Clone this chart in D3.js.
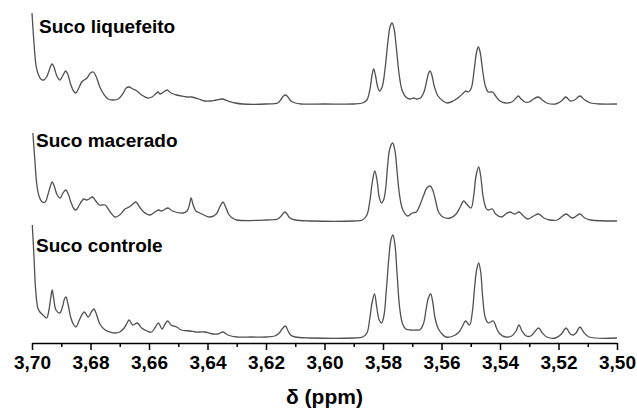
<!DOCTYPE html>
<html>
<head>
<meta charset="utf-8">
<script src="https://cdn.jsdelivr.net/npm/d3@7"></script>
<style>
  body { margin: 0; background: #fff; }
  svg { display: block; font-family: "Liberation Sans", Arial, sans-serif; }
  .trace { fill: none; stroke: #505050; stroke-width: 1.3; stroke-linejoin: round; }
  .label { font-weight: bold; font-size: 19px; fill: #000; }
  .axis path, .axis line { stroke: #000; stroke-width: 1.5; }
  .axis text { font-family: "Liberation Sans", Arial, sans-serif; font-weight: bold; font-size: 19px; fill: #000; }
</style>
</head>
<body>
<svg id="chart" width="637" height="414"></svg>
<script>
// chemical shift ticks (ppm)
var majorTicks = [3.70, 3.68, 3.66, 3.64, 3.62, 3.60, 3.58, 3.56, 3.54, 3.52, 3.50];
var minorTicks = [3.69, 3.67, 3.65, 3.63, 3.61, 3.59, 3.57, 3.55, 3.53, 3.51];

var seriesNames = ["Suco liquefeito", "Suco macerado", "Suco controle"];

// [ppm, intensity]
var liquefeitoPts = [
  [3.7000, 91], [3.6993, 60], [3.6986, 38], [3.6979, 30], [3.6970, 25], [3.6960, 24], [3.6950, 27],
  [3.6942, 33], [3.6936, 38], [3.6931, 40], [3.6925, 37], [3.6915, 28], [3.6905, 24], [3.6897, 27],
  [3.6890, 31], [3.6885, 33], [3.6878, 30], [3.6868, 20], [3.6858, 13], [3.6850, 11], [3.6840, 16],
  [3.6830, 22], [3.6822, 24], [3.6812, 26], [3.6800, 31], [3.6790, 32], [3.6780, 27], [3.6768, 17],
  [3.6755, 10], [3.6740, 5], [3.6725, 4], [3.6705, 5], [3.6690, 10], [3.6678, 16], [3.6668, 17],
  [3.6655, 15], [3.6641, 13], [3.6625, 9], [3.6605, 6], [3.6590, 7], [3.6578, 10], [3.6569, 12],
  [3.6562, 10], [3.6555, 11], [3.6545, 13], [3.6538, 14], [3.6525, 11], [3.6505, 9], [3.6490, 8],
  [3.6470, 7], [3.6455, 7], [3.6430, 5], [3.6410, 3], [3.6390, 3], [3.6370, 4], [3.6350, 5],
  [3.6330, 3], [3.6305, 1], [3.6280, 0], [3.6200, 0], [3.6160, 1], [3.6150, 4], [3.6140, 8],
  [3.6133, 9], [3.6125, 7], [3.6115, 3], [3.6100, 1], [3.6080, 0], [3.6000, 0], [3.5900, 0],
  [3.5870, 1], [3.5855, 4], [3.5845, 14], [3.5838, 28], [3.5832, 35], [3.5826, 29], [3.5819, 18],
  [3.5812, 13], [3.5803, 17], [3.5793, 35], [3.5783, 63], [3.5776, 77], [3.5769, 81], [3.5762, 75],
  [3.5755, 58], [3.5745, 30], [3.5735, 14], [3.5722, 7], [3.5708, 5], [3.5695, 6], [3.5685, 5],
  [3.5672, 6], [3.5660, 12], [3.5650, 24], [3.5644, 31], [3.5639, 33], [3.5633, 29], [3.5625, 18],
  [3.5612, 8], [3.5595, 3], [3.5580, 1], [3.5560, 3], [3.5540, 7], [3.5525, 11], [3.5517, 13],
  [3.5508, 12], [3.5498, 16], [3.5488, 35], [3.5480, 52], [3.5474, 57], [3.5468, 52], [3.5460, 35],
  [3.5450, 18], [3.5440, 12], [3.5430, 12], [3.5425, 12], [3.5415, 8], [3.5400, 3], [3.5380, 1],
  [3.5360, 2], [3.5345, 6], [3.5337, 8], [3.5328, 5], [3.5315, 2], [3.5300, 2], [3.5285, 5],
  [3.5269, 7], [3.5255, 4], [3.5240, 1], [3.5210, 0], [3.5190, 3], [3.5175, 7], [3.5160, 3],
  [3.5145, 4], [3.5127, 8], [3.5110, 4], [3.5090, 1], [3.5060, 0], [3.5000, 0]
];

var maceradoPts = [
  [3.6997, 88], [3.6990, 60], [3.6983, 35], [3.6975, 24], [3.6965, 19], [3.6955, 19], [3.6945, 27],
  [3.6937, 35], [3.6931, 39], [3.6924, 35], [3.6914, 26], [3.6904, 23], [3.6896, 27], [3.6889, 30],
  [3.6884, 31], [3.6876, 27], [3.6866, 18], [3.6856, 12], [3.6850, 11], [3.6840, 15], [3.6830, 20],
  [3.6822, 22], [3.6814, 21], [3.6805, 22], [3.6793, 24], [3.6782, 20], [3.6770, 16], [3.6750, 16],
  [3.6735, 10], [3.6716, 4], [3.6700, 6], [3.6682, 12], [3.6668, 14], [3.6655, 17], [3.6645, 19],
  [3.6632, 14], [3.6618, 9], [3.6597, 6], [3.6580, 9], [3.6566, 11], [3.6558, 10], [3.6550, 11],
  [3.6535, 13], [3.6520, 10], [3.6484, 8], [3.6470, 10], [3.6462, 16], [3.6456, 23], [3.6450, 17],
  [3.6440, 10], [3.6426, 8], [3.6405, 5], [3.6391, 4], [3.6370, 7], [3.6358, 14], [3.6347, 19],
  [3.6338, 14], [3.6328, 7], [3.6315, 3], [3.6300, 1], [3.6200, 1], [3.6160, 2], [3.6148, 5],
  [3.6140, 8], [3.6135, 9], [3.6128, 7], [3.6118, 3], [3.6100, 1], [3.6050, 0], [3.5900, 0],
  [3.5870, 1], [3.5855, 6], [3.5845, 20], [3.5836, 40], [3.5828, 50], [3.5820, 40], [3.5813, 24],
  [3.5805, 18], [3.5798, 21], [3.5791, 32], [3.5784, 56], [3.5777, 72], [3.5767, 78], [3.5759, 70],
  [3.5752, 50], [3.5743, 25], [3.5732, 11], [3.5716, 5], [3.5700, 8], [3.5686, 9], [3.5675, 15],
  [3.5662, 25], [3.5650, 33], [3.5639, 35], [3.5630, 31], [3.5620, 20], [3.5610, 9], [3.5595, 4],
  [3.5570, 3], [3.5550, 7], [3.5536, 14], [3.5524, 20], [3.5514, 17], [3.5499, 13], [3.5490, 25],
  [3.5482, 45], [3.5473, 54], [3.5466, 45], [3.5458, 25], [3.5448, 13], [3.5441, 11], [3.5426, 12],
  [3.5415, 7], [3.5394, 4], [3.5380, 7], [3.5366, 9], [3.5350, 7], [3.5335, 9], [3.5320, 5],
  [3.5304, 2], [3.5285, 5], [3.5268, 7], [3.5250, 3], [3.5230, 1], [3.5205, 1], [3.5190, 4],
  [3.5174, 7], [3.5152, 3], [3.5127, 7], [3.5110, 3], [3.5090, 1], [3.5000, 0]
];

var controlePts = [
  [3.6999, 113], [3.6993, 80], [3.6988, 50], [3.6980, 30], [3.6973, 26], [3.6966, 24], [3.6950, 20],
  [3.6942, 28], [3.6936, 40], [3.6931, 48], [3.6926, 40], [3.6918, 28], [3.6905, 25], [3.6895, 32],
  [3.6889, 39], [3.6884, 41], [3.6877, 34], [3.6867, 20], [3.6857, 13], [3.6850, 11], [3.6838, 18],
  [3.6828, 24], [3.6821, 26], [3.6808, 21], [3.6795, 27], [3.6788, 29], [3.6780, 24], [3.6768, 14],
  [3.6750, 8], [3.6733, 6], [3.6716, 5], [3.6700, 6], [3.6685, 10], [3.6675, 15], [3.6668, 18],
  [3.6655, 13], [3.6640, 15], [3.6625, 10], [3.6607, 7], [3.6591, 6], [3.6578, 11], [3.6568, 15],
  [3.6555, 9], [3.6545, 14], [3.6536, 17], [3.6525, 13], [3.6505, 11], [3.6490, 8], [3.6460, 7],
  [3.6440, 6], [3.6410, 6], [3.6380, 4], [3.6364, 4], [3.6347, 6], [3.6330, 3], [3.6300, 1],
  [3.6250, 1], [3.6200, 1], [3.6170, 2], [3.6155, 5], [3.6145, 9], [3.6134, 12], [3.6126, 8],
  [3.6116, 3], [3.6100, 1], [3.6050, 0], [3.5900, 0], [3.5870, 1], [3.5855, 5], [3.5845, 20],
  [3.5837, 36], [3.5829, 44], [3.5821, 30], [3.5813, 18], [3.5805, 15], [3.5797, 22], [3.5788, 50],
  [3.5780, 80], [3.5773, 98], [3.5766, 103], [3.5759, 93], [3.5752, 65], [3.5743, 30], [3.5733, 14],
  [3.5722, 9], [3.5705, 8], [3.5686, 8], [3.5675, 8], [3.5662, 14], [3.5652, 30], [3.5645, 40],
  [3.5637, 44], [3.5630, 36], [3.5622, 20], [3.5612, 10], [3.5598, 4], [3.5585, 1], [3.5560, 2],
  [3.5540, 6], [3.5528, 12], [3.5518, 17], [3.5504, 13], [3.5495, 25], [3.5487, 50], [3.5480, 68],
  [3.5473, 75], [3.5466, 66], [3.5459, 40], [3.5450, 20], [3.5440, 15], [3.5423, 17], [3.5412, 10],
  [3.5400, 4], [3.5380, 1], [3.5360, 2], [3.5345, 7], [3.5335, 13], [3.5325, 7], [3.5310, 2],
  [3.5295, 2], [3.5282, 6], [3.5268, 10], [3.5255, 5], [3.5240, 1], [3.5210, 0], [3.5190, 4],
  [3.5174, 10], [3.5160, 4], [3.5150, 3], [3.5140, 5], [3.5127, 11], [3.5112, 5], [3.5095, 1],
  [3.5000, 0]
];

var svg = d3.select("#chart");

var margin = {left: 32, right: 20, axisY: 343};
var width = +svg.attr("width");

// reversed ppm axis
var x = d3.scaleLinear()
    .domain([3.70, 3.50])
    .range([margin.left, width - margin.right]);

// each spectrum sits on its own baseline
var traces = [
  {name: seriesNames[0], pts: liquefeitoPts, base: 104, lx: 39, ly: 33},
  {name: seriesNames[1], pts: maceradoPts, base: 221, lx: 36, ly: 147},
  {name: seriesNames[2], pts: controlePts, base: 338, lx: 36, ly: 252}
];

traces.forEach(function(t){
    var y = d3.scaleLinear()
        .domain([0, 100])
        .range([t.base, t.base - 100]);

    var line = d3.line()
        .x(function(d) { return x(d[0]); })
        .y(function(d) { return y(d[1]); })
        .curve(d3.curveCatmullRom.alpha(0.5));

    svg.append("path")
        .datum(t.pts)
        .attr("class", "trace")
        .attr("d", line);

    svg.append("text")
        .attr("class", "label")
        .attr("x", t.lx)
        .attr("y", t.ly)
        .text(t.name);
});

// comma decimal separator
var fmt = d3.formatLocale({decimal: ",", thousands: ".", grouping: [3], currency: ["", ""]}).format(".2f");

var xAxis = d3.axisBottom(x)
    .tickValues(majorTicks)
    .tickFormat(fmt)
    .tickSizeInner(7)
    .tickSizeOuter(0)
    .tickPadding(6);

var gx = svg.append("g")
    .attr("class", "axis")
    .attr("transform", "translate(0," + margin.axisY + ")")
    .call(xAxis);

svg.append("g")
    .attr("class", "axis")
    .attr("transform", "translate(0," + margin.axisY + ")")
    .call(d3.axisBottom(x).tickValues(minorTicks).tickSizeInner(4).tickSizeOuter(0).tickFormat(""))
    .select(".domain").remove();

svg.append("text")
    .attr("x", (x.range()[0] + x.range()[1]) / 2)
    .attr("y", 404)
    .attr("text-anchor", "middle")
    .style("font-weight", "bold")
    .style("font-size", "21px")
    .text("δ (ppm)");
</script>
</body>
</html>
